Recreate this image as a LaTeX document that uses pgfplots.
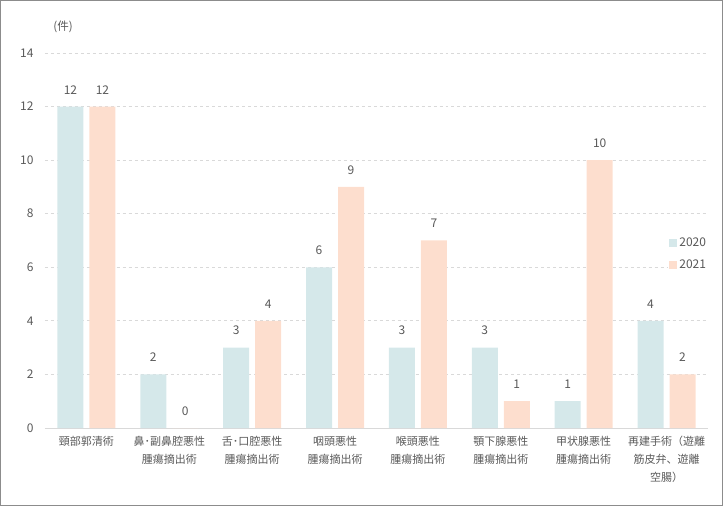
\documentclass[border=0pt]{standalone}
\usepackage{fontspec}
\setmainfont{Noto Sans CJK JP}
\usepackage{pgfplots}
\pgfplotsset{compat=1.18}
\definecolor{c20}{HTML}{D5E8EA}
\definecolor{c21}{HTML}{FDDECE}
\definecolor{txt}{HTML}{595959}
\definecolor{grd}{HTML}{D9D9D9}
\definecolor{frm}{HTML}{8C8C8C}

\begin{document}
\begin{tikzpicture}
\begin{axis}[
    at={(0,0)}, anchor=south west,
    scale only axis, width=663bp, height=375bp,
    ybar=6bp, bar width=26bp,
    xmin=-0.5, xmax=7.5, ymin=0, ymax=14,
    ytick={0,2,...,14},
    xtick=data,
    xticklabels={頸部郭清術, 鼻･副鼻腔悪性\\腫瘍摘出術, 舌･口腔悪性\\腫瘍摘出術, 咽頭悪性\\腫瘍摘出術,
        喉頭悪性\\腫瘍摘出術, 顎下腺悪性\\腫瘍摘出術, 甲状腺悪性\\腫瘍摘出術, 再建手術（遊離\\筋皮弁、遊離\\空腸）},
    axis x line*=bottom, axis y line*=left,
    x axis line style={draw=grd, line width=1bp, -},
    y axis line style={draw=none},
    major tick length=0pt,
    ymajorgrids=true,
    grid style={dashed, grd, line width=0.8bp},
    /pgf/number format/assume math mode=true,
    tick label style={font=\fontsize{12bp}{18bp}\selectfont, text=txt},
    xticklabel style={align=center, yshift=-5bp, font=\fontsize{11bp}{18bp}\selectfont},
    yticklabel style={xshift=-8bp},
    nodes near coords,
    every node near coord/.append style={font=\fontsize{12bp}{14bp}\selectfont, text=txt, yshift=9bp},
    legend style={at={(axis description cs:0.94,0.515)}, anchor=north west, draw=none, fill=white,
        font=\fontsize{12bp}{14bp}\selectfont, text=txt, row sep=8bp, inner sep=1bp},
    legend cell align=left,
    legend image code/.code={\fill[#1, draw=none] (0bp,-3.5bp) rectangle (8bp,4.5bp);},
]
\addplot[fill=c20, draw=none] coordinates {(0,12) (1,2) (2,3) (3,6) (4,3) (5,3) (6,1) (7,4)};
\addplot[fill=c21, draw=none] coordinates {(0,12) (1,0) (2,4) (3,9) (4,7) (5,1) (6,10) (7,2)};
\legend{2020, 2021}
\end{axis}
\node[text=txt, font=\fontsize{11.5bp}{13bp}\selectfont] at (18bp,401bp) {(件)};
\pgfresetboundingbox
\path[use as bounding box] (-45bp,-78bp) rectangle (678bp,428bp);
\draw[frm, line width=1bp] (-44.5bp,-77.5bp) rectangle (677.5bp,427.5bp);
\end{tikzpicture}
\end{document}
